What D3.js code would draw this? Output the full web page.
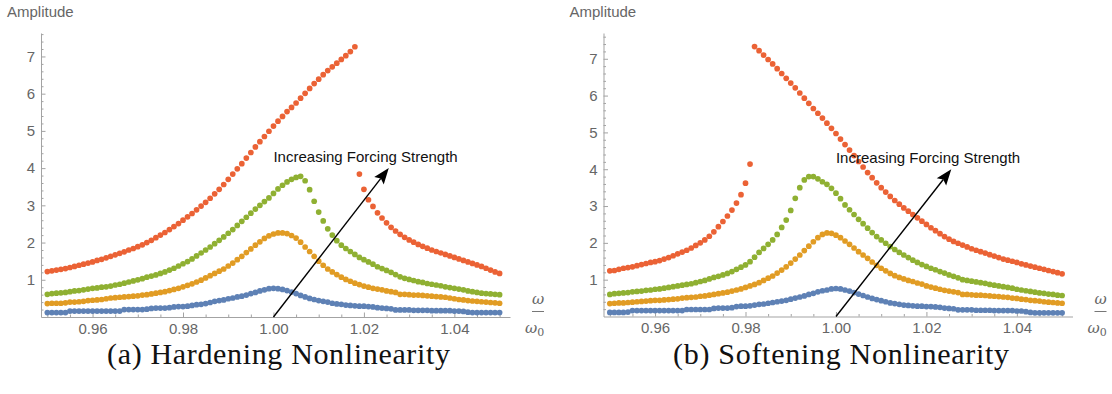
<!DOCTYPE html>
<html>
<head>
<meta charset="utf-8">
<script src="https://cdn.jsdelivr.net/npm/d3@7"></script>
<style>
  body { margin: 0; background: #fff; }
  svg { display: block; }
  .tick-label text { font-family: "Liberation Sans", Arial, sans-serif; font-size: 15px; fill: #666; }
  .axis-title { font-family: "Liberation Sans", Arial, sans-serif; font-size: 15px; fill: #666; }
  .omega { font-family: "DejaVu Serif", "Liberation Serif", serif; font-style: italic; font-size: 15px; fill: #666; }
  .annotation { font-family: "Liberation Sans", Arial, sans-serif; font-size: 15px; fill: #111; }
  .caption { font-family: "Liberation Serif", "Times New Roman", serif; font-size: 30px; fill: #111; }
</style>
</head>
<body>
<svg id="chart" width="1112" height="394"></svg>
<script>
// frequency sweep: 0.950 .. 1.050, one sample per 0.001
const omegaStart = 0.95;
const omegaStep = 0.001;
const omega = d3.range(101).map(i => +(omegaStart + i * omegaStep).toFixed(3));

// (a) hardening
const hardBlue = [
  0.12,0.12,0.12,0.12,0.12,0.16,0.16,0.16,0.16,0.16,
  0.16,0.16,0.16,0.16,0.16,0.16,0.16,0.20,0.20,0.20,
  0.20,0.20,0.21,0.23,0.24,0.24,0.24,0.25,0.27,0.28,
  0.28,0.29,0.31,0.33,0.34,0.36,0.39,0.42,0.44,0.46,
  0.49,0.51,0.54,0.56,0.59,0.63,0.66,0.70,0.73,0.76,
  0.77,0.76,0.74,0.71,0.67,0.63,0.58,0.54,0.50,0.47,
  0.44,0.42,0.40,0.37,0.35,0.34,0.32,0.31,0.30,0.29,
  0.29,0.28,0.27,0.25,0.24,0.23,0.22,0.19,0.19,0.19,
  0.19,0.18,0.18,0.18,0.18,0.17,0.17,0.17,0.17,0.17,
  0.16,0.16,0.15,0.13,0.12,0.12,0.12,0.12,0.12,0.12,
  0.12
];
const hardOrange = [
  0.36,0.37,0.37,0.37,0.38,0.40,0.40,0.41,0.42,0.44,
  0.45,0.46,0.47,0.49,0.51,0.52,0.53,0.54,0.55,0.56,
  0.57,0.59,0.60,0.62,0.64,0.66,0.68,0.71,0.74,0.77,
  0.81,0.85,0.89,0.94,0.99,1.05,1.11,1.17,1.23,1.29,
  1.37,1.45,1.54,1.63,1.73,1.83,1.93,2.02,2.11,2.18,
  2.23,2.26,2.26,2.24,2.19,2.12,2.01,1.88,1.76,1.63,
  1.50,1.39,1.29,1.21,1.14,1.07,1.01,0.96,0.91,0.87,
  0.83,0.80,0.77,0.75,0.73,0.70,0.68,0.66,0.61,0.61,
  0.60,0.59,0.59,0.58,0.57,0.56,0.55,0.54,0.53,0.51,
  0.49,0.47,0.46,0.44,0.43,0.42,0.41,0.40,0.39,0.38,
  0.37
];
const hardGreen = [
  0.61,0.63,0.64,0.65,0.66,0.68,0.70,0.71,0.73,0.75,
  0.77,0.78,0.80,0.81,0.83,0.86,0.88,0.91,0.94,0.97,
  1.00,1.03,1.07,1.10,1.13,1.17,1.21,1.26,1.31,1.37,
  1.43,1.49,1.56,1.64,1.72,1.80,1.88,1.97,2.06,2.15,
  2.25,2.35,2.46,2.57,2.68,2.79,2.90,3.00,3.10,3.20,
  3.32,3.44,3.54,3.63,3.70,3.75,3.78,3.66,3.42,3.11,
  2.82,2.58,2.37,2.20,2.05,1.93,1.84,1.76,1.68,1.60,
  1.54,1.48,1.42,1.35,1.30,1.25,1.20,1.14,1.08,1.04,
  1.01,0.98,0.95,0.93,0.90,0.88,0.86,0.84,0.81,0.79,
  0.77,0.75,0.73,0.70,0.68,0.66,0.64,0.63,0.62,0.61,
  0.60
];
const hardRed = [
  1.22,1.24,1.26,1.28,1.30,1.33,1.36,1.39,1.42,1.45,
  1.48,1.52,1.55,1.59,1.63,1.67,1.71,1.75,1.80,1.84,
  1.89,1.94,2.00,2.06,2.13,2.20,2.27,2.35,2.43,2.51,
  2.60,2.69,2.78,2.88,2.98,3.08,3.19,3.31,3.43,3.56,
  3.70,3.84,3.98,4.12,4.27,4.42,4.57,4.71,4.85,4.99,
  5.13,5.26,5.39,5.52,5.63,5.75,5.88,6.01,6.14,6.27,
  6.39,6.51,6.62,6.72,6.82,6.92,7.02,7.13,7.26,3.84,
  3.43,3.15,2.97,2.80,2.66,2.53,2.41,2.31,2.22,2.14,
  2.07,2.01,1.95,1.90,1.85,1.80,1.76,1.72,1.68,1.64,
  1.60,1.56,1.52,1.48,1.44,1.40,1.36,1.31,1.26,1.21,
  1.17
];

// (b) softening
const softBlue = [
  0.11,0.11,0.11,0.11,0.12,0.16,0.16,0.16,0.16,0.16,
  0.16,0.16,0.16,0.16,0.16,0.16,0.16,0.19,0.19,0.19,
  0.19,0.19,0.19,0.22,0.23,0.23,0.23,0.24,0.27,0.28,
  0.28,0.29,0.31,0.33,0.34,0.36,0.38,0.40,0.42,0.44,
  0.47,0.50,0.53,0.56,0.60,0.63,0.67,0.70,0.72,0.75,
  0.76,0.75,0.72,0.69,0.65,0.61,0.57,0.53,0.49,0.46,
  0.43,0.40,0.37,0.35,0.33,0.31,0.30,0.29,0.28,0.28,
  0.27,0.27,0.26,0.25,0.23,0.22,0.21,0.18,0.18,0.18,
  0.18,0.17,0.17,0.17,0.17,0.16,0.16,0.16,0.16,0.16,
  0.15,0.15,0.13,0.11,0.10,0.10,0.10,0.10,0.10,0.10,
  0.10
];
const softOrange = [
  0.35,0.36,0.37,0.37,0.38,0.39,0.40,0.41,0.42,0.43,
  0.44,0.44,0.45,0.46,0.47,0.48,0.50,0.51,0.52,0.53,
  0.55,0.56,0.58,0.60,0.62,0.64,0.66,0.69,0.72,0.75,
  0.79,0.83,0.87,0.92,0.98,1.04,1.10,1.18,1.26,1.35,
  1.45,1.56,1.67,1.79,1.91,2.03,2.14,2.23,2.27,2.26,
  2.21,2.14,2.05,1.96,1.86,1.76,1.67,1.58,1.48,1.39,
  1.31,1.24,1.17,1.11,1.06,1.02,0.98,0.95,0.91,0.88,
  0.83,0.80,0.77,0.74,0.71,0.69,0.67,0.65,0.60,0.60,
  0.59,0.58,0.58,0.57,0.56,0.55,0.54,0.53,0.52,0.50,
  0.49,0.47,0.46,0.44,0.43,0.42,0.40,0.39,0.38,0.37,
  0.36
];
const softGreen = [
  0.60,0.62,0.63,0.64,0.65,0.67,0.68,0.69,0.71,0.72,
  0.74,0.75,0.77,0.79,0.81,0.83,0.85,0.87,0.89,0.92,
  0.95,0.98,1.02,1.06,1.09,1.13,1.17,1.22,1.28,1.34,
  1.40,1.49,1.61,1.74,1.85,1.96,2.08,2.23,2.42,2.62,
  2.88,3.21,3.50,3.71,3.80,3.80,3.74,3.66,3.59,3.48,
  3.35,3.20,3.03,2.90,2.77,2.64,2.52,2.40,2.28,2.17,
  2.08,1.99,1.90,1.82,1.74,1.67,1.60,1.53,1.47,1.41,
  1.36,1.31,1.27,1.22,1.18,1.13,1.09,1.05,1.00,0.98,
  0.96,0.94,0.92,0.90,0.87,0.85,0.83,0.81,0.79,0.77,
  0.74,0.72,0.70,0.68,0.66,0.64,0.63,0.61,0.60,0.58,
  0.57
];
const softRed = [
  1.24,1.25,1.28,1.31,1.33,1.35,1.38,1.41,1.44,1.47,
  1.49,1.52,1.56,1.60,1.65,1.70,1.75,1.80,1.86,1.93,
  2.00,2.08,2.18,2.30,2.44,2.58,2.73,2.89,3.08,3.31,
  3.62,4.14,7.33,7.22,7.10,6.98,6.86,6.73,6.60,6.47,
  6.34,6.21,6.07,5.93,5.79,5.65,5.52,5.39,5.25,5.11,
  4.97,4.82,4.67,4.52,4.37,4.21,4.06,3.91,3.77,3.63,
  3.50,3.38,3.26,3.15,3.05,2.95,2.86,2.77,2.68,2.59,
  2.50,2.41,2.33,2.25,2.17,2.10,2.04,1.99,1.94,1.89,
  1.84,1.80,1.76,1.72,1.68,1.64,1.60,1.56,1.53,1.50,
  1.47,1.43,1.40,1.37,1.34,1.31,1.28,1.25,1.22,1.19,
  1.16
];

const seriesColors = ['#5E81B5', '#E19C24', '#8FB032', '#EB6235'];
const xMajorTicks = [0.96, 0.98, 1.00, 1.02, 1.04];
const yMajorTicks = [1, 2, 3, 4, 5, 6, 7];
const captions = ['(a) Hardening Nonlinearity', '(b) Softening Nonlinearity'];
const annotationText = 'Increasing Forcing Strength';
const arrowFrom = [1.0, 0];
const arrowTo = [1.0255, 4.0];
const annotationAt = [1.0, 4.17];

const xDomain = [0.9486, 1.0523];
const xMinorTicks = d3.range(0, 21).map(i => +(0.95 + i * 0.005).toFixed(3))
    .filter(v => !xMajorTicks.some(t => Math.abs(t - v) < 1e-6));
const yMinorTicks = d3.range(1, 39).map(i => +(i * 0.2).toFixed(1))
    .filter(v => Math.abs(v - Math.round(v)) > 1e-6);

const axisColor = '#a3a3a3';

const panels = [
    {series: [hardBlue, hardOrange, hardGreen, hardRed], caption: captions[0],
     left: 41, right: 510, top: 33, bottom: 317, yMax: 7.63, captionWidth: 343},
    {series: [softBlue, softOrange, softGreen, softRed], caption: captions[1],
     left: 603.5, right: 1072.5, top: 33, bottom: 316.5, yMax: 7.70, captionWidth: 336}
];

const svg = d3.select('#chart');

function styleAxis(g, keepDomain) {
    g.selectAll('line').attr('stroke', axisColor);
    g.select('.domain').attr('stroke', keepDomain ? axisColor : 'none');
    g.attr('font-family', null).attr('font-size', null);
}

function drawArrow(g, xScale, yScale) {
    const x1 = xScale(arrowFrom[0]), y1 = yScale(arrowFrom[1]);
    const x2 = xScale(arrowTo[0]), y2 = yScale(arrowTo[1]);
    const len = Math.hypot(x2 - x1, y2 - y1);
    const ux = (x2 - x1) / len, uy = (y2 - y1) / len;
    const headLen = 16, halfW = 6, notch = 3;
    g.append('line')
        .attr('x1', x1).attr('y1', y1)
        .attr('x2', x2 - ux * (headLen - notch)).attr('y2', y2 - uy * (headLen - notch))
        .attr('stroke', '#000')
        .attr('stroke-width', 1.4);
    const bx = x2 - ux * headLen, by = y2 - uy * headLen;
    const pts = [
        [x2, y2],
        [bx - uy * halfW, by + ux * halfW],
        [x2 - ux * (headLen - notch), y2 - uy * (headLen - notch)],
        [bx + uy * halfW, by - ux * halfW]
    ];
    g.append('path')
        .attr('d', 'M' + pts.map(p => p.join(',')).join('L') + 'Z')
        .attr('fill', '#000');
}

function renderPanel(p) {
    const g = svg.append('g');
    const xScale = d3.scaleLinear().domain(xDomain).range([p.left, p.right]);
    const yScale = d3.scaleLinear().domain([0, p.yMax]).range([p.bottom, p.top]);

    g.append('g')
        .attr('transform', `translate(0,${p.bottom})`)
        .call(d3.axisBottom(xScale).tickValues(xMinorTicks).tickSizeInner(-2.5).tickSizeOuter(0).tickFormat(''))
        .call(ax => styleAxis(ax, false));
    g.append('g')
        .attr('class', 'tick-label')
        .attr('transform', `translate(0,${p.bottom})`)
        .call(d3.axisBottom(xScale).tickValues(xMajorTicks).tickSizeInner(-4.5).tickSizeOuter(0)
            .tickPadding(6).tickFormat(d3.format('.2f')))
        .call(ax => styleAxis(ax, true));

    g.append('g')
        .attr('transform', `translate(${p.left},0)`)
        .call(d3.axisLeft(yScale).tickValues(yMinorTicks).tickSizeInner(-2.5).tickSizeOuter(0).tickFormat(''))
        .call(ax => styleAxis(ax, false));
    g.append('g')
        .attr('class', 'tick-label')
        .attr('transform', `translate(${p.left},0)`)
        .call(d3.axisLeft(yScale).tickValues(yMajorTicks).tickSizeInner(-4.5).tickSizeOuter(0)
            .tickPadding(6).tickFormat(d3.format('d')))
        .call(ax => styleAxis(ax, true));

    g.append('text')
        .attr('class', 'axis-title')
        .attr('x', p.left - 34)
        .attr('y', 17)
        .text('Amplitude');

    // omega / omega_0 label at the end of the x axis
    const fx = p.right + 28;
    g.append('text').attr('class', 'omega')
        .attr('x', fx).attr('y', 304).attr('text-anchor', 'middle').text('ω');
    g.append('line')
        .attr('x1', fx - 6).attr('x2', fx + 6)
        .attr('y1', 311.5).attr('y2', 311.5)
        .attr('stroke', '#777').attr('stroke-width', 1);
    const den = g.append('text').attr('class', 'omega')
        .attr('x', fx - 13).attr('y', 333);
    den.append('tspan').text('ω');
    den.append('tspan').attr('dy', 3).attr('font-size', 11).attr('font-style', 'normal').text('0');

    p.series.forEach((values, k) => {
        g.append('g')
            .selectAll('circle')
            .data(omega.map((w, i) => [w, values[i]]))
            .join('circle')
            .attr('cx', d => xScale(d[0]))
            .attr('cy', d => yScale(d[1]))
            .attr('r', 2.85)
            .attr('fill', seriesColors[k]);
    });

    drawArrow(g, xScale, yScale);

    g.append('text')
        .attr('class', 'annotation')
        .attr('x', xScale(annotationAt[0]))
        .attr('y', yScale(annotationAt[1]))
        .text(annotationText);

    g.append('text')
        .attr('class', 'caption')
        .attr('x', (p.left + p.right) / 2 + 3)
        .attr('y', 364)
        .attr('text-anchor', 'middle')
        .attr('textLength', p.captionWidth)
        .attr('lengthAdjust', 'spacing')
        .text(p.caption);
}

panels.forEach(renderPanel);
</script>
</body>
</html>
